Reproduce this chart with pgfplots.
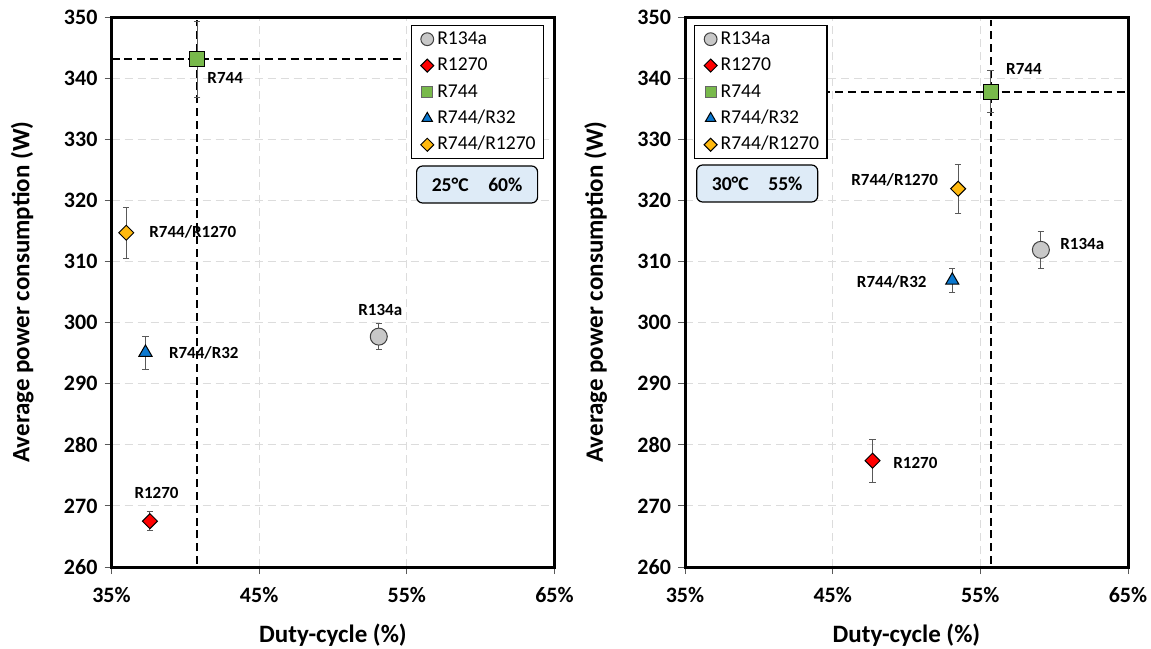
\documentclass[border=0pt]{standalone}
\usepackage{fontspec}
\setmainfont{Carlito}
\usepackage{pgfplots}
\pgfplotsset{compat=1.18}
\definecolor{cGray}{HTML}{C8C8C8}
\definecolor{cRed}{HTML}{FF0000}
\definecolor{cGreen}{HTML}{78B94B}
\definecolor{cBlue}{HTML}{0B78CF}
\definecolor{cOrange}{HTML}{FFB90F}
\definecolor{cBox}{HTML}{DEEBF7}
\definecolor{cGrid}{HTML}{DCDCDC}
\definecolor{cErr}{HTML}{595959}
\tikzset{
  lbl/.style={font=\bfseries\fontsize{8.5}{10}\selectfont, inner sep=0pt},
  infobox/.style={draw=black, line width=0.6pt, fill=cBox, rounded corners=3pt, minimum width=60.5pt, minimum height=18.5pt, font=\bfseries\fontsize{9.8}{11}\selectfont, inner sep=0pt},
}
\pgfplotsset{
  myaxis/.style={
    scale only axis, width=221.5pt, height=275pt,
    xmin=35, xmax=65, ymin=260, ymax=350,
    xtick={35,45,55,65}, xticklabels={35\%,45\%,55\%,65\%},
    ytick={260,270,...,350},
    tick pos=left, tick align=outside,
    major tick length=3.5pt,
    tick style={cErr, line width=0.5pt},
    axis line style={line width=1.5pt, black},
    grid=major,
    major grid style={cGrid, line width=0.5pt, dash pattern=on 4pt off 2.5pt},
    /pgf/number format/assume math mode=true,
    ticklabel style={font=\bfseries\fontsize{11}{13}\selectfont},
    xticklabel style={yshift=-3pt},
    label style={font=\bfseries\fontsize{12.5}{15}\selectfont},
    xlabel={Duty-cycle (\%)},
    ylabel={Average power consumption (W)},
    xlabel style={at={(axis description cs:0.5,-0.1236)}, anchor=center},
    ylabel style={at={(axis description cs:-0.2018,0.5)}, anchor=center},
    legend cell align=left,
    legend style={draw=black, line width=0.6pt, font=\fontsize{9.8}{11}\selectfont,
      inner xsep=2.5pt, inner ysep=0.2pt, row sep=0pt,
      nodes={inner xsep=1.5pt, inner ysep=1.2pt, text height=8pt, text depth=2.8pt}},
    legend image code/.code={\path[draw=none, fill=none] (-5.5pt,0) -- (3.5pt,0); \draw[#1, line width=0.5pt] plot coordinates {(0cm,0cm)};},
    clip=false,
  },
  errb/.style={/pgfplots/error bars/y dir=both, /pgfplots/error bars/y explicit,
    /pgfplots/error bars/error bar style={cErr, line width=0.5pt},
    /pgfplots/error bars/error mark options={cErr, rotate=90, mark size=1.6pt, line width=0.5pt}},
  refl/.style={black, line width=1pt, dash pattern=on 4pt off 2.4pt, forget plot},
  ptC/.style={only marks, mark=*, mark size=4.25pt, mark options={fill=cGray, draw=black!75, line width=0.5pt}, forget plot},
  ptR/.style={only marks, mark=square*, mark size=2.65pt, mark options={rotate=45, fill=cRed, draw=black, line width=0.5pt}, forget plot},
  ptG/.style={only marks, mark=square*, mark size=3.75pt, mark options={fill=cGreen, draw=black, line width=0.5pt}, forget plot},
  ptB/.style={only marks, mark=triangle*, mark size=3.8pt, mark options={fill=cBlue, draw=black, line width=0.5pt}, forget plot},
  ptO/.style={only marks, mark=square*, mark size=2.65pt, mark options={rotate=45, fill=cOrange, draw=black, line width=0.5pt}, forget plot},
}
\newcommand{\mylegend}{%
  \addlegendimage{only marks, mark=*, mark size=3.2pt, mark options={fill=cGray, draw=black!75}}\addlegendentry{R134a}
  \addlegendimage{only marks, mark=square*, mark size=2.3pt, mark options={rotate=45, fill=cRed, draw=black}}\addlegendentry{R1270}
  \addlegendimage{only marks, mark=square*, mark size=2.8pt, mark options={fill=cGreen, draw=black!60}}\addlegendentry{R744}
  \addlegendimage{only marks, mark=triangle*, mark size=3.0pt, mark options={fill=cBlue, draw=black}}\addlegendentry{R744/R32}
  \addlegendimage{only marks, mark=square*, mark size=2.3pt, mark options={rotate=45, fill=cOrange, draw=black}}\addlegendentry{R744/R1270}
}
\begin{document}
\begin{tikzpicture}
\path[use as bounding box] (0,0) rectangle (575.5pt,324pt);
% ---------- left panel: 25 C, 60 % ----------
\begin{axis}[myaxis, at={(55.75pt,40.5pt)}, anchor=south west,
  legend style={at={(0.6753,0.9855)}, anchor=north west}]
\mylegend
\addplot[refl] coordinates {(40.8,260.5) (40.8,349.5)};
\addplot[refl] coordinates {(35,343.1) (54.9,343.1)};
\addplot[ptC, errb] coordinates {(53.1,297.7) +- (0,2.1)};
\addplot[ptR, errb] coordinates {(37.6,267.5) +- (0,1.6)};
\addplot[ptG, errb] coordinates {(40.8,343.1) +- (0,6.2)};
\addplot[ptB, errb] coordinates {(37.3,295.1) +- (0,2.7)};
\addplot[ptO, errb] coordinates {(36.0,314.7) +- (0,4.2)};
\node[lbl] at (axis cs:42.7,340.0) {R744};
\node[lbl] at (axis cs:40.5,314.8) {R744/R1270};
\node[lbl] at (axis cs:53.2,302.0) {R134a};
\node[lbl] at (axis cs:41.25,295.1) {R744/R32};
\node[lbl] at (axis cs:38.05,272.1) {R1270};
\node[infobox] at (axis description cs:0.8253,0.6955) {25°C\hspace{1em}60\%};
\end{axis}
% ---------- right panel: 30 C, 55 % ----------
\begin{axis}[myaxis, at={(342.5pt,40.5pt)}, anchor=south west,
  legend style={at={(0.0204,0.9855)}, anchor=north west}]
\mylegend
\addplot[refl] coordinates {(55.7,260.5) (55.7,349.5)};
\addplot[refl] coordinates {(44.3,337.8) (65,337.8)};
\addplot[ptC, errb] coordinates {(59.1,311.9) +- (0,3.0)};
\addplot[ptR, errb] coordinates {(47.7,277.4) +- (0,3.5)};
\addplot[ptG, errb] coordinates {(55.7,337.8) +- (0,3.4)};
\addplot[ptB, errb] coordinates {(53.1,306.9) +- (0,2.0)};
\addplot[ptO, errb] coordinates {(53.5,321.9) +- (0,4.0)};
\node[lbl] at (axis cs:57.95,341.5) {R744};
\node[lbl] at (axis cs:49.2,323.3) {R744/R1270};
\node[lbl] at (axis cs:61.9,312.8) {R134a};
\node[lbl] at (axis cs:49.0,306.7) {R744/R32};
\node[lbl] at (axis cs:50.6,277.0) {R1270};
\node[infobox] at (axis description cs:0.1629,0.6973) {30°C\hspace{1em}55\%};
\end{axis}
\end{tikzpicture}
\end{document}
